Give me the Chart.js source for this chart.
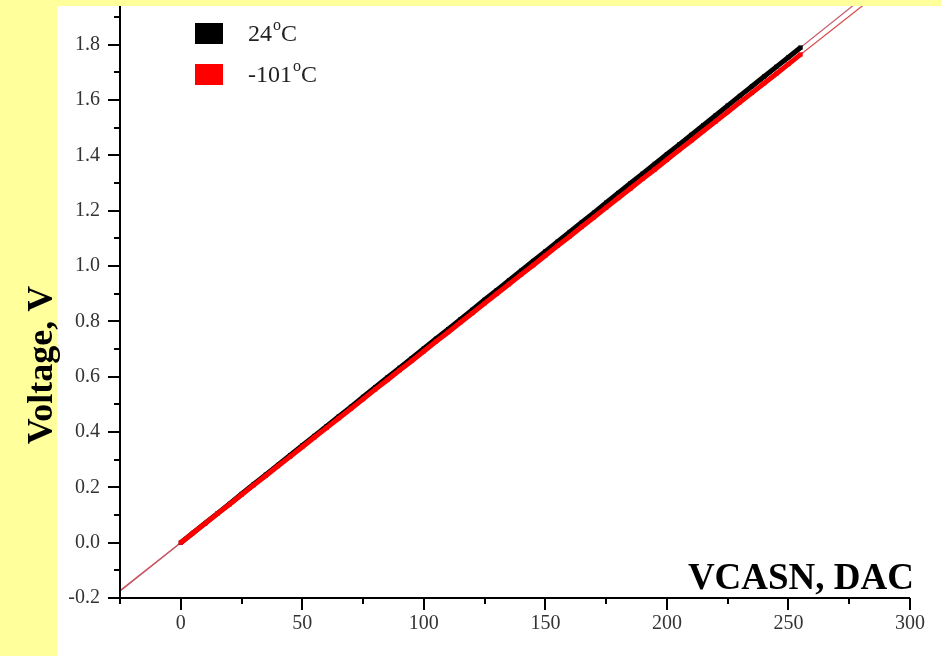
<!DOCTYPE html>
<html>
<head>
<meta charset="utf-8">
<script src="https://cdn.jsdelivr.net/npm/chart.js@4/dist/chart.umd.min.js"></script>
<style>
  html, body { margin: 0; padding: 0; background: #FFFF9C; }
  #wrap { width: 941px; height: 656px; position: relative; }
</style>
</head>
<body>
<div id="wrap"><canvas id="vcasnChart" width="941" height="656"></canvas></div>
<script>
// DAC settings (x) and measured voltages (V)
const dac = [0, 5, 10, 15, 20, 25, 30, 35, 40, 45, 50, 55, 60, 65, 70, 75, 80, 85, 90, 95,
  100, 105, 110, 115, 120, 125, 130, 135, 140, 145, 150, 155, 160, 165, 170, 175, 180, 185, 190, 195,
  200, 205, 210, 215, 220, 225, 230, 235, 240, 245, 250, 255];

const volt24 = [0.000, 0.035, 0.070, 0.105, 0.140, 0.176, 0.211, 0.246, 0.281, 0.316,
  0.351, 0.386, 0.421, 0.456, 0.491, 0.527, 0.562, 0.597, 0.632, 0.667,
  0.702, 0.737, 0.772, 0.807, 0.842, 0.878, 0.913, 0.948, 0.983, 1.018,
  1.053, 1.088, 1.123, 1.158, 1.193, 1.229, 1.264, 1.299, 1.334, 1.369,
  1.404, 1.439, 1.474, 1.509, 1.544, 1.580, 1.615, 1.650, 1.685, 1.720,
  1.755, 1.790];

const voltM101 = [0.000, 0.035, 0.069, 0.104, 0.138, 0.173, 0.208, 0.242, 0.277, 0.311,
  0.346, 0.381, 0.415, 0.450, 0.484, 0.519, 0.554, 0.588, 0.623, 0.657,
  0.692, 0.727, 0.761, 0.796, 0.830, 0.865, 0.900, 0.934, 0.969, 1.003,
  1.038, 1.073, 1.107, 1.142, 1.176, 1.211, 1.246, 1.280, 1.315, 1.349,
  1.384, 1.419, 1.453, 1.488, 1.522, 1.557, 1.592, 1.626, 1.661, 1.695,
  1.730, 1.765];

// linear fit lines, drawn across the whole x range
const fitX = [-25, 300];
const fit24 = [-0.176, 2.106];
const fitM101 = [-0.173, 2.076];

const seriesLabels = ["24", "-101"];
const xTicks = [-25, 0, 25, 50, 75, 100, 125, 150, 175, 200, 225, 250, 275, 300];
const yTicks = [-0.2, -0.1, 0.0, 0.1, 0.2, 0.3, 0.4, 0.5, 0.6, 0.7, 0.8, 0.9, 1.0,
  1.1, 1.2, 1.3, 1.4, 1.5, 1.6, 1.7, 1.8, 1.9];

const toXY = (xs, ys) => xs.map((x, i) => ({ x: x, y: ys[i] }));

const serif = "'Liberation Serif', 'Times New Roman', serif";

// yellow frame, white panel, minor/major ticks, titles and legend
const decor = {
  id: "decor",
  beforeDraw(chart) {
    const ctx = chart.ctx;
    ctx.save();
    ctx.fillStyle = "#FFFF9C";
    ctx.fillRect(0, 0, chart.width, chart.height);
    ctx.fillStyle = "#ffffff";
    ctx.fillRect(57, 6, chart.width - 57, chart.height - 6);
    ctx.restore();
  },
  afterDraw(chart) {
    const ctx = chart.ctx;
    const xs = chart.scales.x, ys = chart.scales.y;
    const area = chart.chartArea;
    ctx.save();
    ctx.strokeStyle = "#000";
    ctx.lineWidth = 2;
    // axis lines
    ctx.beginPath();
    ctx.moveTo(area.left, area.top);
    ctx.lineTo(area.left, area.bottom);
    ctx.lineTo(area.right, area.bottom);
    ctx.stroke();
    // ticks
    ctx.beginPath();
    xTicks.forEach((v) => {
      const px = Math.round(xs.getPixelForValue(v));
      const len = v % 50 === 0 ? 12 : 6;
      ctx.moveTo(px, area.bottom);
      ctx.lineTo(px, area.bottom + len);
    });
    yTicks.forEach((v, i) => {
      const py = Math.round(ys.getPixelForValue(v));
      const len = i % 2 === 0 ? 12 : 6;
      ctx.moveTo(area.left, py);
      ctx.lineTo(area.left - len, py);
    });
    ctx.stroke();

    // axis titles
    ctx.fillStyle = "#000";
    ctx.font = "bold 37px " + serif;
    ctx.textAlign = "right";
    ctx.textBaseline = "alphabetic";
    ctx.fillText("VCASN, DAC", 914, 589);

    ctx.save();
    ctx.translate(52, 365);
    ctx.rotate(-Math.PI / 2);
    ctx.textAlign = "center";
    ctx.font = "bold 36px " + serif;
    ctx.fillText("Voltage, V", 0, 0);
    ctx.restore();

    // legend
    const colors = ["#000000", "#ff0000"];
    seriesLabels.forEach((lab, i) => {
      const top = 23 + i * 41;
      ctx.fillStyle = colors[i];
      ctx.fillRect(195, top, 28, 21);
      ctx.fillStyle = "#222";
      ctx.textAlign = "left";
      ctx.font = "24px " + serif;
      let x = 248;
      const base = top + 18;
      ctx.fillText(lab, x, base);
      x += ctx.measureText(lab).width + 1;
      ctx.font = "16px " + serif;
      ctx.fillText("o", x, base - 11);
      x += ctx.measureText("o").width;
      ctx.font = "24px " + serif;
      ctx.fillText("C", x, base);
    });
    ctx.restore();
  }
};

new Chart(document.getElementById("vcasnChart").getContext("2d"), {
  type: "scatter",
  data: {
    datasets: [
      {
        label: seriesLabels[1] + "°C",
        data: toXY(dac, voltM101),
        showLine: true,
        borderColor: "#ff0000",
        borderWidth: 5,
        backgroundColor: "#ff0000",
        pointStyle: "rect",
        pointRadius: 3,
        pointBorderWidth: 0,
        order: 1
      },
      {
        label: seriesLabels[0] + "°C",
        data: toXY(dac, volt24),
        showLine: true,
        borderColor: "#000000",
        borderWidth: 5,
        backgroundColor: "#000000",
        pointStyle: "rect",
        pointRadius: 3,
        pointBorderWidth: 0,
        order: 2
      },
      {
        label: "fit 24",
        data: toXY(fitX, fit24),
        showLine: true,
        borderColor: "#c45a6a",
        borderWidth: 1.2,
        pointRadius: 0,
        order: 3
      },
      {
        label: "fit -101",
        data: toXY(fitX, fitM101),
        showLine: true,
        borderColor: "#d84848",
        borderWidth: 1.2,
        pointRadius: 0,
        order: 3
      }
    ]
  },
  options: {
    responsive: false,
    animation: false,
    layout: { padding: { left: 0, right: 31, top: 6, bottom: 0 } },
    plugins: {
      legend: { display: false },
      tooltip: { enabled: false }
    },
    scales: {
      x: {
        type: "linear",
        min: -25,
        max: 300,
        afterBuildTicks: (s) => { s.ticks = xTicks.map((v) => ({ value: v })); },
        afterFit: (s) => { s.height = 58; s.paddingLeft = 0; s.paddingRight = 0; },
        grid: { display: false, drawTicks: false },
        border: { display: false },
        ticks: {
          padding: 14,
          color: "#333",
          font: { family: serif, size: 20 },
          maxRotation: 0,
          autoSkip: false,
          callback: (v) => (v % 50 === 0 ? String(v) : "")
        }
      },
      y: {
        type: "linear",
        min: -0.2,
        max: 1.94,
        afterBuildTicks: (s) => { s.ticks = yTicks.map((v) => ({ value: v })); },
        afterFit: (s) => { s.width = 120; s.paddingTop = 0; s.paddingBottom = 0; },
        grid: { display: false, drawTicks: false },
        border: { display: false },
        ticks: {
          padding: 20,
          color: "#333",
          font: { family: serif, size: 20 },
          autoSkip: false,
          callback: (v) => {
            const i = Math.round((v + 0.2) * 10);
            return i % 2 === 0 ? v.toFixed(1) : "";
          }
        }
      }
    }
  },
  plugins: [decor]
});
</script>
</body>
</html>
